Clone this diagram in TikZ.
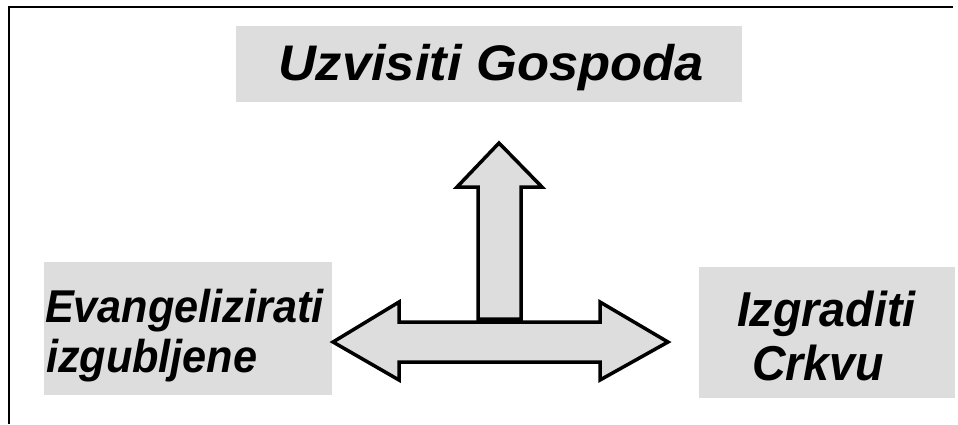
\documentclass[tikz,border=0pt]{standalone}
\usepackage{fontspec}
\setmainfont{Liberation Sans}
\definecolor{boxgray}{HTML}{DDDDDD}
\begin{document}
\begin{tikzpicture}[x=1pt,y=-1pt,
  box/.style={fill=boxgray, draw=none, inner sep=0pt, outer sep=0pt, anchor=north west},
  lbl/.style={inner sep=0pt, outer sep=0pt, font=\bfseries\itshape},
  frameline/.style={line width=2pt, line cap=butt},
  arrowshape/.style={fill=boxgray, draw=black, line width=3.5pt, line join=miter}]
\useasboundingbox (0,0) rectangle (958,424);

% frame
\coordinate (fTR) at (953,6.7);
\coordinate (fTL) at (7.7,6.7);
\coordinate (fLT) at (8.7,5.7);
\coordinate (fBL) at (8.7,424);
\draw[frameline] (fTR) -- (fTL);
\draw[frameline] (fLT) -- (fBL);

% boxes
\node[box, minimum width=506pt, minimum height=76pt] (topbox) at (236,26) {};
\node[box, minimum width=288pt, minimum height=133pt] (leftbox) at (44,262) {};
\node[box, minimum width=256pt, minimum height=131pt] (rightbox) at (699,267) {};

% texts
\node[lbl, anchor=base] (toptxt) at (491,80) {\fontsize{50}{58}\selectfont\scalebox{1.05}[1]{Uzvisiti Gospoda}};
\node[lbl, anchor=base west] (lefttxtA) at (45,322) {\fontsize{46}{52}\selectfont\scalebox{0.94}[1]{Evangelizirati}};
\node[lbl, anchor=base west] (lefttxtB) at (46,372) {\fontsize{46}{52}\selectfont\scalebox{0.94}[1]{izgubljene}};
\node[lbl, anchor=base west] (righttxtA) at (737,326) {\fontsize{49}{56}\selectfont\scalebox{0.95}[1]{Izgraditi}};
\node[lbl, anchor=base west] (righttxtB) at (752,380) {\fontsize{49}{56}\selectfont\scalebox{0.95}[1]{Crkvu}};

% horizontal double arrow
\draw[arrowshape] (333,342) -- (399,302) -- (399,322) -- (600,322) -- (600,302) -- (668,342)
  -- (600,380) -- (600,362) -- (399,362) -- (399,380) -- cycle;
% up arrow
\draw[arrowshape] (499,143) -- (542,187) -- (521,187) -- (521,319) -- (478,319) -- (478,187)
  -- (457,187) -- cycle;
\end{tikzpicture}
\end{document}
